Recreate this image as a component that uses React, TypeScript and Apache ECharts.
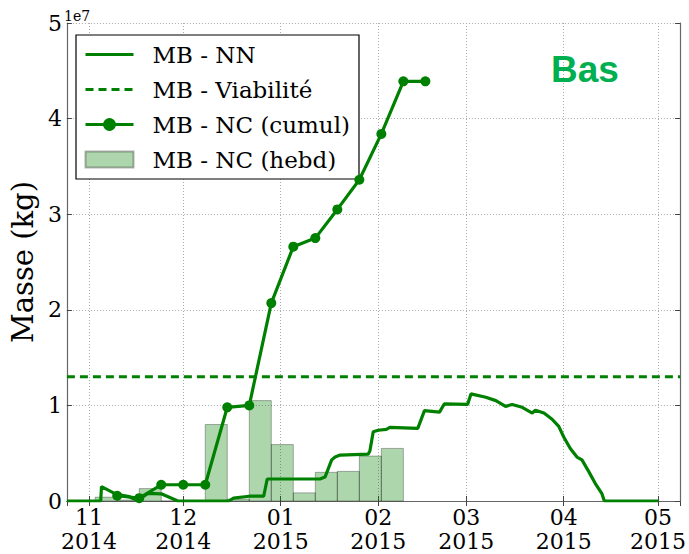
import React, { useEffect, useRef } from "react";
import * as echarts from "echarts";

const SCALE = 1e7;
const X_MIN = "2014-10-25";
const X_MAX = "2015-05-08";
const Y_MAX = 5;
const Y_STEP = 1;

const seriesNames = ["MB - NN", "MB - Viabilité", "MB - NC (cumul)", "MB - NC (hebd)"];

const nnDates = [
  "2014-10-25", "2014-11-04T18:00", "2014-11-05", "2014-11-09T18:00", "2014-11-13T21:00",
  "2014-11-15T10:00", "2014-11-18T05:00", "2014-11-19T19:00", "2014-11-24", "2014-11-29T07:00",
  "2014-12-15T12:00", "2014-12-17", "2014-12-21T22:00", "2014-12-26T14:00", "2014-12-27T17:00",
  "2015-01-13T12:00", "2015-01-15T02:00", "2015-01-17T05:00", "2015-01-18T07:00", "2015-01-19T22:00",
  "2015-01-28T19:00", "2015-01-29T08:00", "2015-01-30T10:00", "2015-02-01", "2015-02-03T14:00",
  "2015-02-04T17:00", "2015-02-13T14:00", "2015-02-15T17:00", "2015-02-20T12:00", "2015-02-22",
  "2015-03-01T10:00", "2015-03-02T12:00", "2015-03-07T05:00", "2015-03-10T10:00", "2015-03-13T12:00",
  "2015-03-15T14:00", "2015-03-18T19:00", "2015-03-22", "2015-03-23", "2015-03-25T17:00",
  "2015-03-28T07:00", "2015-03-30T10:00", "2015-04-01", "2015-04-03T02:00", "2015-04-05T05:00",
  "2015-04-06T19:00", "2015-04-08T22:00", "2015-04-11", "2015-04-13T02:00", "2015-04-13T22:00",
  "2015-05-01",
];
const nnValues = [
  0, 0, 0.15, 0.07, 0.045,
  0.02, 0.045, 0.08, 0.075, 0,
  0, 0.03, 0.05, 0.05, 0.23,
  0.23, 0.25, 0.43, 0.46, 0.48,
  0.49, 0.52, 0.725, 0.74, 0.75,
  0.77, 0.76, 0.945, 0.93, 1.015,
  1.01, 1.12, 1.085, 1.05, 0.99,
  1.01, 0.98, 0.92, 0.95, 0.92,
  0.855, 0.78, 0.67, 0.55, 0.46,
  0.43, 0.31, 0.185, 0.08, 0,
  0,
];

const viabilityDates = [X_MIN, X_MAX];
const viabilityValues = [1.3, 1.3];

const cumulDates = [
  "2014-11-10", "2014-11-17", "2014-11-24", "2014-12-01", "2014-12-08",
  "2014-12-15", "2014-12-22", "2014-12-29", "2015-01-05", "2015-01-12",
  "2015-01-19", "2015-01-26", "2015-02-02", "2015-02-09", "2015-02-16",
];
const cumulValues = [0.055, 0.03, 0.17, 0.17, 0.17, 0.98, 1.0, 2.07, 2.66, 2.75, 3.05, 3.36, 3.84, 4.39, 4.39];

const weekStarts = [
  "2014-11-03", "2014-11-10", "2014-11-17", "2014-11-24", "2014-12-01", "2014-12-08", "2014-12-15",
  "2014-12-22", "2014-12-29", "2015-01-05", "2015-01-12", "2015-01-19", "2015-01-26", "2015-02-02",
];
const weekEnds = [
  "2014-11-10", "2014-11-17", "2014-11-24", "2014-12-01", "2014-12-08", "2014-12-15", "2014-12-22",
  "2014-12-29", "2015-01-05", "2015-01-12", "2015-01-19", "2015-01-26", "2015-02-02", "2015-02-09",
];
const weeklyValues = [0.04, 0.01, 0.13, 0, 0, 0.8, 0.02, 1.05, 0.59, 0.085, 0.3, 0.31, 0.47, 0.55];

const GREEN = "#008000";
const SERIF = "DejaVu Serif";

export default function App() {
  const ref = useRef<HTMLDivElement>(null);
  useEffect(() => {
    document.body.style.margin = "0";
    if (!ref.current) return;
    const chart = echarts.init(ref.current, null, { renderer: "svg" });

    const pad2 = (n: number) => (n < 10 ? "0" + n : "" + n);
    const xLabel = (v: number) => {
      const d = new Date(v);
      if (d.getDate() !== 1 || d.getHours() !== 0) return "";
      return pad2(d.getMonth() + 1) + "\n" + d.getFullYear();
    };

    const axisLineStyle = { color: "#666", width: 1.2 };
    const tick = { show: true, inside: true, length: 5, lineStyle: { color: "#444", width: 1 } };
    const grid = { show: true, lineStyle: { color: "#aaa", type: [1, 2] as any, width: 1 } };
    const noSymbol = { color: "rgba(0,0,0,0)", borderColor: "rgba(0,0,0,0)", borderWidth: 0 };

    const option: any = {
      animation: false,
      backgroundColor: "#fff",
      grid: { left: 65, right: 7, top: 23, bottom: 53, containLabel: false },
      title: {
        text: "Bas",
        left: 551,
        top: 51,
        padding: 0,
        textStyle: { fontSize: 37, fontWeight: "bold", color: "#00b050", fontFamily: "Liberation Sans" },
      },
      legend: {
        orient: "vertical",
        left: 76,
        top: 35,
        padding: [8, 9, 8, 8],
        itemGap: 12,
        itemWidth: 48,
        itemHeight: 16,
        borderColor: "#000",
        borderWidth: 1.2,
        borderRadius: 0,
        backgroundColor: "#fff",
        lineStyle: { width: 3 },
        textStyle: { fontFamily: SERIF, fontSize: 23, color: "#000", lineHeight: 23, padding: [0, 0, 0, 14] },
        data: [
          { name: seriesNames[0], itemStyle: noSymbol },
          { name: seriesNames[1], itemStyle: noSymbol },
          { name: seriesNames[2] },
          { name: seriesNames[3], icon: "rect" },
        ],
      },
      graphic: [
        {
          type: "text",
          left: 64,
          top: 9,
          style: { text: "1e7", fontFamily: SERIF, fontSize: 14, fill: "#000" },
        },
      ],
      xAxis: [
        {
          type: "time",
          min: X_MIN,
          max: X_MAX,
          splitNumber: 7,
          minInterval: 28 * 86400000,
          axisLine: { show: true, lineStyle: axisLineStyle },
          axisTick: tick,
          splitLine: grid,
          axisLabel: {
            formatter: xLabel,
            fontFamily: SERIF,
            fontSize: 22,
            lineHeight: 24,
            color: "#000",
            margin: 4,
            showMinLabel: false,
            showMaxLabel: false,
            hideOverlap: false,
          },
        },
        {
          type: "time",
          position: "top",
          min: X_MIN,
          max: X_MAX,
          splitNumber: 7,
          minInterval: 28 * 86400000,
          axisLine: { show: true, lineStyle: axisLineStyle },
          axisTick: tick,
          axisLabel: { show: false },
          splitLine: { show: false },
        },
      ],
      yAxis: [
        {
          type: "value",
          min: 0,
          max: Y_MAX * SCALE,
          interval: Y_STEP * SCALE,
          name: "Masse (kg)",
          nameLocation: "middle",
          nameGap: 23,
          nameTextStyle: { fontFamily: SERIF, fontSize: 29, color: "#000" },
          axisLine: { show: true, lineStyle: axisLineStyle },
          axisTick: tick,
          splitLine: grid,
          axisLabel: {
            formatter: (v: number) => String(Math.round(v / SCALE)),
            fontFamily: SERIF,
            fontSize: 22,
            color: "#000",
            margin: 5,
          },
        },
        {
          type: "value",
          position: "right",
          min: 0,
          max: Y_MAX * SCALE,
          interval: Y_STEP * SCALE,
          axisLine: { show: true, lineStyle: axisLineStyle },
          axisTick: tick,
          axisLabel: { show: false },
          splitLine: { show: false },
        },
      ],
      series: [
        {
          name: seriesNames[3],
          type: "custom",
          z: 1,
          itemStyle: { color: "rgba(0,128,0,0.32)", borderColor: "rgba(0,0,0,0.3)", borderWidth: 1 },
          encode: { x: [0, 1], y: 2 },
          data: weekStarts.map((s, i) => [s, weekEnds[i], weeklyValues[i] * SCALE]),
          renderItem: (params: any, api: any) => {
            const p0 = api.coord([api.value(0), api.value(2)]);
            const p1 = api.coord([api.value(1), 0]);
            return {
              type: "rect",
              shape: { x: p0[0], y: p0[1], width: p1[0] - p0[0], height: p1[1] - p0[1] },
              style: { fill: "rgba(0,128,0,0.32)", stroke: "rgba(0,0,0,0.3)", lineWidth: 1 },
            };
          },
        },
        {
          name: seriesNames[0],
          type: "line",
          z: 3,
          symbol: "none",
          lineStyle: { color: GREEN, width: 3.2 },
          itemStyle: { color: GREEN },
          data: nnDates.map((d, i) => [d, nnValues[i] * SCALE]),
        },
        {
          name: seriesNames[1],
          type: "line",
          z: 3,
          symbol: "none",
          lineStyle: { color: GREEN, width: 3, type: [8, 5] },
          itemStyle: { color: GREEN },
          data: viabilityDates.map((d, i) => [d, viabilityValues[i] * SCALE]),
        },
        {
          name: seriesNames[2],
          type: "line",
          z: 4,
          symbol: "circle",
          symbolSize: 10,
          lineStyle: { color: GREEN, width: 3.2 },
          itemStyle: { color: GREEN },
          data: cumulDates.map((d, i) => [d, cumulValues[i] * SCALE]),
        },
      ],
    };
    chart.setOption(option);
    return () => chart.dispose();
  }, []);
  return <div ref={ref} style={{ width: 689, height: 554 }} />;
}
